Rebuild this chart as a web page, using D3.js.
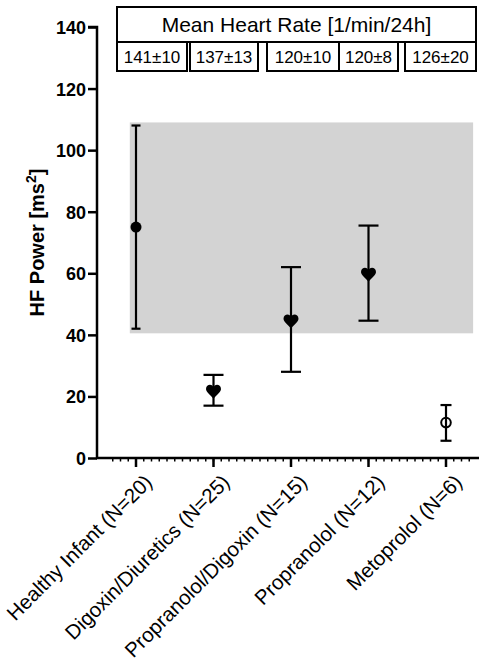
<!DOCTYPE html>
<html>
<head>
<meta charset="utf-8">
<script src="https://cdn.jsdelivr.net/npm/d3@7"></script>
<style>
  body { margin: 0; background: #fff; }
  text { font-family: "Liberation Sans", Arial, sans-serif; fill: #000; }
</style>
</head>
<body>
<div id="chart"></div>
<script>
// data
const groups = ["Healthy Infant (N=20)", "Digoxin/Diuretics (N=25)", "Propranolol/Digoxin (N=15)", "Propranolol (N=12)", "Metoprolol (N=6)"];
const means  = [75, 21.5, 44.3, 59.5, 11.5];
const lows   = [42, 17, 28, 44.6, 5.6];
const highs  = [108, 27, 62, 75.5, 17.2];
const markers = ["dot", "heart", "heart", "heart", "ring"];
const heartRates = ["141±10", "137±13", "120±10", "120±8", "126±20"];
const normalRange = [40.5, 109];
const yTicks = [0, 20, 40, 60, 80, 100, 120, 140];

const W = 480, H = 662;
const axisX = 97, axisY = 458, topY = 27;

const svg = d3.select("#chart").append("svg")
  .attr("width", W).attr("height", H);

const x = d3.scaleLinear().domain([0, 4]).range([136, 446]);
const y = d3.scaleLinear().domain([0, 140]).range([axisY, topY]);

// shaded normal range
svg.append("rect")
  .attr("x", x(-0.08))
  .attr("width", x(4.35) - x(-0.08))
  .attr("y", y(normalRange[1]))
  .attr("height", y(normalRange[0]) - y(normalRange[1]))
  .attr("fill", "#d3d3d3");

// y axis
const yAxis = svg.append("g")
  .attr("transform", `translate(${axisX},0)`)
  .call(d3.axisLeft(y).tickValues(yTicks).tickSize(9).tickPadding(2));
yAxis.select(".domain").attr("stroke-width", 2.5).attr("d", `M-9,${y(140)}H0V${axisY}`);
yAxis.selectAll(".tick line").attr("stroke-width", 2.5);
yAxis.selectAll("text")
  .style("font-size", "18px").style("font-weight", "bold")
  .attr("dy", "0.36em");

svg.append("text")
  .attr("transform", `translate(44,${y(70)}) rotate(-90)`)
  .attr("text-anchor", "middle")
  .style("font-size", "20px").style("font-weight", "bold")
  .html('HF Power [ms<tspan dy="-8" font-size="14px">2</tspan><tspan dy="8">]</tspan>');

// x axis
const xg = svg.append("g").attr("transform", `translate(0,${axisY})`);
xg.append("line")
  .attr("x1", axisX - 1).attr("x2", 479)
  .attr("stroke", "#000").attr("stroke-width", 2.5);

const minor = d3.range(-3, 44).map(i => i / 10).filter(v => x(v) > axisX + 2 && x(v) < 479);
xg.selectAll(".minor").data(minor).join("line")
  .attr("x1", d => x(d)).attr("x2", d => x(d))
  .attr("y1", 0).attr("y2", 3.5)
  .attr("stroke", "#000").attr("stroke-width", 1.5);

xg.selectAll(".major").data(groups).join("line")
  .attr("x1", (d, i) => x(i)).attr("x2", (d, i) => x(i))
  .attr("y1", 0).attr("y2", 9)
  .attr("stroke", "#000").attr("stroke-width", 2.5);

xg.selectAll(".lbl").data(groups).join("text")
  .attr("transform", (d, i) => `translate(${x(i) + 7},15) rotate(-45)`)
  .attr("text-anchor", "end")
  .attr("dy", "0.72em")
  .style("font-size", "20.5px")
  .text(d => d);

// error bars
const capW = [9, 20, 20, 20, 11];
const bars = svg.append("g").attr("stroke", "#000").attr("stroke-width", 2.2);
groups.forEach((g, i) => {
  bars.append("line")
    .attr("x1", x(i)).attr("x2", x(i))
    .attr("y1", y(lows[i])).attr("y2", y(highs[i]));
  [lows[i], highs[i]].forEach(v => {
    bars.append("line")
      .attr("x1", x(i) - capW[i] / 2).attr("x2", x(i) + capW[i] / 2)
      .attr("y1", y(v)).attr("y2", y(v));
  });
});

// markers
const heart = "M0,7 C-2,4 -7.5,0.5 -7.5,-2.8 C-7.5,-5.8 -5.3,-7 -3.6,-7 C-1.8,-7 -0.4,-5.8 0,-4.3 C0.4,-5.8 1.8,-7 3.6,-7 C5.3,-7 7.5,-5.8 7.5,-2.8 C7.5,0.5 2,4 0,7 Z";
markers.forEach((m, i) => {
  const cx = x(i), cy = y(means[i]);
  if (m === "dot") {
    svg.append("circle").attr("cx", cx).attr("cy", cy).attr("r", 5.5).attr("fill", "#000");
  } else if (m === "ring") {
    svg.append("circle").attr("cx", cx).attr("cy", cy).attr("r", 4.8)
      .attr("fill", "#fff").attr("stroke", "#000").attr("stroke-width", 2);
    svg.append("line").attr("x1", cx).attr("x2", cx)
      .attr("y1", cy - 4.8).attr("y2", cy + 4.8)
      .attr("stroke", "#000").attr("stroke-width", 2.2);
  } else {
    svg.append("path").attr("d", heart)
      .attr("transform", `translate(${cx},${cy})`).attr("fill", "#000");
  }
});

// heart-rate table
const cells = [[117, 187], [190, 258], [267, 339], [339, 398], [405, 476]];
const tbl = svg.append("g");
tbl.append("rect")
  .attr("x", 117).attr("y", 7).attr("width", 476 - 117).attr("height", 35)
  .attr("fill", "none").attr("stroke", "#000").attr("stroke-width", 2);
tbl.append("text")
  .attr("x", (117 + 476) / 2).attr("y", 24.5).attr("dy", "0.36em")
  .attr("text-anchor", "middle")
  .style("font-size", "21px")
  .text("Mean Heart Rate [1/min/24h]");

tbl.selectAll(".cell").data(heartRates).join("rect")
  .attr("x", (d, i) => cells[i][0]).attr("y", 42)
  .attr("width", (d, i) => cells[i][1] - cells[i][0]).attr("height", 29)
  .attr("fill", "none").attr("stroke", "#000").attr("stroke-width", 2);
tbl.selectAll(".cellText").data(heartRates).join("text")
  .attr("x", (d, i) => (cells[i][0] + cells[i][1]) / 2).attr("y", 56.5)
  .attr("dy", "0.36em").attr("text-anchor", "middle")
  .style("font-size", "17px")
  .text(d => d);
</script>
</body>
</html>
